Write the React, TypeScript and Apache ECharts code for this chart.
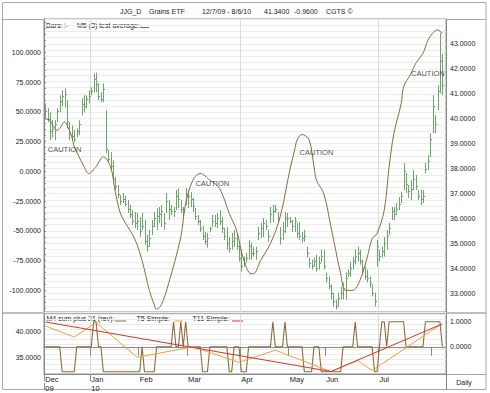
import React, { useEffect, useRef } from 'react';
import * as echarts from 'echarts';

// ---------- data ----------
const monthNames = ['Dec', 'Jan', 'Feb', 'Mar', 'Apr', 'May', 'Jun', 'Jul', 'Aug'];
const monthAxisLabels = ['Dec', 'Jan', 'Feb', 'Mar', 'Apr', 'May', 'Jun', 'Jul', ''];
const monthBarCounts = [19, 20, 20, 22, 20, 15, 22, 22, 6];
const yearLabels = ['09', '10'];
const gridMonths = ['Jan', 'Apr', 'Jul'];

const priceHigh = [
  40.62, 40.42, 40.26, 39.94, 39.94, 40.42, 40.94, 41.14, 41.22, 40.74,
  39.86, 39.74, 39.54, 39.62, 39.94, 40.82, 40.94, 40.94, 41.14, 41.26,
  41.81, 41.85, 41.42, 41.06, 41.42, 40.34, 38.74, 38.66, 38.34, 37.66,
  37.34, 36.94, 37.02, 36.90, 36.74, 36.54, 36.34, 36.26, 36.22, 36.06,
  36.22, 35.94, 35.34, 35.54, 35.94, 36.26, 36.42, 36.46, 36.54, 36.22,
  37.02, 36.74, 36.54, 36.46, 37.14, 37.22, 36.74, 36.46, 37.22, 37.14,
  37.06, 36.82, 36.42, 36.14, 35.94, 35.70, 35.46, 35.42, 35.66, 36.14,
  36.14, 36.22, 36.34, 36.06, 35.62, 35.66, 35.26, 35.42, 35.54, 35.42,
  34.95, 34.75, 34.47, 34.63, 35.14, 35.03, 34.87, 34.87, 35.66, 35.82,
  36.02, 35.94, 35.54, 36.46, 36.54, 36.54, 36.26, 35.66, 35.86, 36.26,
  36.22, 36.06, 35.94, 36.06, 35.82, 35.86, 35.46, 35.54, 34.87, 34.43,
  34.35, 34.43, 34.55, 34.47, 34.75, 34.75, 33.83, 33.67, 33.35, 33.03,
  32.75, 33.03, 33.27, 33.43, 33.83, 33.95, 34.27, 34.47, 34.75, 34.87,
  34.75, 34.35, 34.07, 33.95, 33.67, 33.35, 33.03, 35.14, 34.75, 34.87,
  35.26, 35.54, 35.82, 36.46, 36.46, 36.62, 36.86, 37.06, 38.22, 37.82,
  37.34, 37.54, 37.94, 37.74, 37.14, 37.14, 37.14, 38.22, 38.54, 39.42,
  40.94, 40.14, 41.34, 43.45, 42.61,
];
const priceLow = [
  40.02, 39.86, 39.14, 39.26, 39.14, 39.86, 40.26, 40.50, 40.46, 39.62,
  39.14, 39.14, 39.06, 39.26, 39.34, 40.14, 40.26, 40.42, 40.62, 40.94,
  41.06, 41.06, 40.74, 40.66, 40.66, 38.62, 38.26, 37.94, 37.46, 37.14,
  36.82, 36.54, 36.62, 36.50, 36.22, 36.02, 35.74, 35.62, 35.54, 35.26,
  35.54, 34.95, 34.67, 34.87, 35.34, 35.66, 35.54, 35.82, 35.66, 35.54,
  36.22, 35.94, 36.14, 36.06, 36.34, 36.42, 36.22, 36.06, 36.54, 36.42,
  36.46, 36.26, 35.94, 35.74, 35.46, 35.14, 34.95, 34.83, 35.46, 35.66,
  35.66, 35.62, 35.74, 35.42, 35.14, 34.75, 34.63, 34.75, 34.87, 34.75,
  34.27, 33.87, 34.07, 34.23, 34.35, 34.35, 34.47, 34.35, 35.14, 35.22,
  35.26, 35.54, 35.06, 35.82, 35.86, 36.22, 35.86, 34.95, 35.14, 35.42,
  35.66, 35.82, 35.46, 35.46, 35.22, 35.14, 35.03, 35.06, 34.43, 34.03,
  33.95, 34.07, 33.87, 33.95, 34.23, 33.95, 33.43, 33.15, 32.75, 32.47,
  32.35, 32.47, 32.75, 32.75, 32.75, 33.67, 33.67, 33.95, 34.15, 34.27,
  34.15, 33.75, 33.55, 33.43, 33.23, 32.87, 32.47, 34.07, 34.27, 34.43,
  34.47, 34.75, 35.34, 35.94, 35.94, 36.14, 36.34, 36.62, 37.14, 37.02,
  36.82, 36.74, 37.14, 37.14, 36.74, 36.54, 36.62, 37.82, 37.94, 38.46,
  39.42, 39.42, 40.34, 41.02, 40.94,
];
const priceClose = [
  40.3, 40.0, 39.5, 39.6, 39.8, 40.3, 40.7, 40.9, 41.0, 39.9,
  39.4, 39.3, 39.2, 39.5, 39.8, 40.6, 40.5, 40.8, 40.9, 41.1,
  41.6, 41.4, 40.9, 40.8, 41.2, 38.8, 38.4, 38.1, 37.6, 37.3,
  37.0, 36.7, 36.8, 36.6, 36.4, 36.2, 35.9, 35.8, 35.9, 35.5,
  35.7, 35.1, 34.9, 35.2, 35.7, 36.0, 36.1, 36.2, 36.3, 35.8,
  36.7, 36.4, 36.3, 36.3, 36.9, 36.8, 36.4, 36.3, 37.0, 36.9,
  36.8, 36.5, 36.1, 35.9, 35.6, 35.3, 35.1, 35.2, 35.6, 35.9,
  35.8, 36.0, 35.9, 35.6, 35.3, 35.0, 34.8, 35.1, 35.2, 34.9,
  34.4, 34.1, 34.2, 34.4, 34.9, 34.6, 34.6, 34.7, 35.4, 35.6,
  35.8, 35.7, 35.3, 36.2, 36.3, 36.4, 36.0, 35.2, 35.5, 36.0,
  36.0, 35.9, 35.7, 35.9, 35.4, 35.3, 35.2, 35.3, 34.6, 34.2,
  34.1, 34.3, 34.0, 34.2, 34.5, 34.1, 33.6, 33.3, 33.0, 32.7,
  32.5, 32.8, 33.0, 33.2, 33.6, 33.8, 34.0, 34.3, 34.5, 34.6,
  34.3, 34.0, 33.7, 33.6, 33.4, 33.0, 32.7, 34.9, 34.5, 34.7,
  35.0, 35.3, 35.6, 36.3, 36.2, 36.4, 36.6, 36.9, 37.9, 37.4,
  37.1, 37.2, 37.6, 37.3, 36.9, 36.8, 36.9, 38.0, 38.3, 39.2,
  40.5, 39.8, 41.1, 42.3, 41.34,
];

// M5 (3) test average, read at [bar index, value] (left axis)
const oscillator = [
  [0, 44], [2, 43], [3, 39], [5, 34.5], [6, 36], [8, 41.5], [9, 39], [11, 29], [12, 20.6],
  [14, 12.2], [16, 4], [18, -1.8], [21, 4], [24, 12.2], [27, 3.8], [29, -18], [31, -35],
  [33, -43], [37, -57], [40, -75], [43, -100], [45, -112], [46, -116], [48, -112],
  [51, -94], [56, -55], [58, -27], [61, -7.4], [64, -1.8], [68, -7.4], [72, -14.4],
  [76, -35.4], [79, -49.5], [82, -74.7], [85, -86], [86, -86], [89, -74.7], [93, -60.7],
  [97, -38.3], [101, 1], [103, 17.8], [104, 26.3], [106, 31], [109, 26.3], [111, 3.8],
  [112, -7.4], [115, -18.6], [118, -46.7], [122, -86], [124, -100], [127, -100],
  [130, -91.5], [133, -72], [135, -56.5], [137, -52.3], [140, -32.6], [142, 3.8],
  [144, 31.9], [147, 57], [148, 71], [151, 82], [153, 90.8], [156, 99.2], [158, 110],
  [160, 116], [162, 118.8], [164, 116],
];
const cautionPoints = [[8, 18.4], [69, -10.2], [112, 15.9], [158, 82.4]];

// lower panel
const m4Signal = [
  0, 0, 0, 0, 0, 0, 0, -1, -1, -1, -1, -1, -1, 0, 0, 0, 0, 0, 0, 0,
  1, 1, 0, 0, -1, -1, -1, -1, -1, -1, -1, -1, -1, -1, -1, -1, -1, -1, -1, -1,
  0, -1, -1, -1, -1, -1, 0, 0, 0, 0, 0, 0, 0, 1, 0, 0, 1, 0, 1, 0,
  0, 0, 0, 0, 0, -1, -1, -1, 0, 0, 0, 0, 0, 0, 0, 0, -1, -1, 0, 0,
  0, -1, -1, -1, 0, 0, 0, 0, 0, 0, 0, 0, 0, 0, 1, 0, 0, 0, 0, 1,
  0, 0, 0, 0, 0, 0, 0, -1, -1, -1, -1, 0, 0, 0, -1, -1, -1, -1, -1, -1,
  -1, -1, -1, 0, 0, 0, 0, 0, 1, 0, 0, 0, 0, 0, 0, 0, -1, -1, 0, 1,
  1, 0, 1, 1, 1, 1, 1, 1, 1, 0, 0, 0, 0, 0, 0, 0, 0, 1, 1, 1,
  1, 1, 1, 1, 0,
];
const t5Points = [
  [0, 40.96], [12, 38.85], [21, 41.63], [38, 35.0], [61, 37.0], [80, 34.04],
  [95, 36.35], [118, 32.3], [129, 34.4], [135, 32.5], [163, 41.15],
];
const t11Points = [[0, 41.73], [118, 32.3], [164, 41.35]];

const oscLabels = [-100, -75, -50, -25, 0, 25, 50, 75, 100];
const priceLabels = [33, 34, 35, 36, 37, 38, 39, 40, 41, 42, 43];
const lowerLeftLabels = [35, 40];
const lowerRightLabels = [0, 1];

// ---------- styles ----------
const FONT = '"Liberation Sans", Arial, Helvetica, sans-serif';
const TXT = '#1a1a1a';
const AX = '#8a8a8a';
const FRAME = '#a8a8a8';
const GRIDC = '#ececec';
const BAR = '#6aa86a';
const BROWN = '#8c6b3c';
const ORANGE = '#f2a040';
const RED = '#d2362c';

export default function App() {
  const ref = useRef<HTMLDivElement>(null);

  useEffect(() => {
    if (!ref.current) return;
    const chart = echarts.init(ref.current, null, { renderer: 'svg' });

    const categories: string[] = [];
    const monthStarts: number[] = [];
    monthNames.forEach((m, k) => {
      monthStarts.push(categories.length);
      for (let j = 0; j < monthBarCounts[k]; j++) categories.push(`${m}-${j}`);
    });
    const monthStartSet = new Set(monthStarts);
    const quarterSet = new Set(
      monthNames.map((m, k) => (gridMonths.includes(m) ? monthStarts[k] : -1)).filter((v) => v >= 0)
    );
    const yearStarts = [0, monthStarts[monthNames.indexOf('Jan')]];

    const barData = priceHigh.map((h, i) => [i, priceLow[i], h, priceClose[i]]);

    const oscMinor: number[] = [];
    for (let v = -115; v <= 125; v += 5) oscMinor.push(v);

    const fmt4 = (v: number) => Number(v).toFixed(4);
    const axLabel = { fontFamily: FONT, fontSize: 7, color: TXT };
    const t = (text: string, x: number, y: number, fill = TXT, extra: any = {}) => ({
      type: 'text', x, y, silent: true,
      style: { text, fontFamily: FONT, fontSize: 7, fill, verticalAlign: 'middle', ...extra },
    });
    const ln = (x1: number, y1: number, x2: number, y2: number, stroke: string, lineWidth = 1) => ({
      type: 'line', silent: true, shape: { x1, y1, x2, y2 }, style: { stroke, lineWidth },
    });

    const option: any = {
      animation: false,
      backgroundColor: '#ffffff',
      grid: [
        { left: 44, right: 44, top: 19, height: 293, show: true, borderColor: AX, borderWidth: 1, backgroundColor: 'transparent' },
        { left: 44, right: 44, top: 314, height: 60, show: true, borderColor: AX, borderWidth: 1, backgroundColor: 'transparent' },
      ],
      xAxis: [
        {
          type: 'category', gridIndex: 0, data: categories, boundaryGap: true,
          axisLine: { show: false }, axisTick: { show: false }, axisLabel: { show: false },
          splitLine: { show: true, interval: (i: number) => quarterSet.has(i), lineStyle: { color: '#dcdcdc', width: 1 } },
        },
        {
          type: 'category', gridIndex: 1, data: categories, boundaryGap: true, position: 'bottom',
          axisLine: { show: true, lineStyle: { color: AX } },
          axisTick: { show: true, interval: (i: number) => monthStartSet.has(i), length: 9, lineStyle: { color: AX } },
          axisLabel: {
            show: true, interval: (i: number) => monthStartSet.has(i),
            formatter: (_v: string, i: number) => monthAxisLabels[monthStarts.indexOf(i)] ?? '',
            align: 'left', margin: 1, ...axLabel, fontSize: 7.5,
          },
          splitLine: { show: true, interval: (i: number) => quarterSet.has(i), lineStyle: { color: '#dcdcdc', width: 1 } },
        },
        {
          type: 'category', gridIndex: 1, data: categories, boundaryGap: true, position: 'bottom', offset: 9,
          axisLine: { show: true, lineStyle: { color: AX } },
          axisTick: { show: true, interval: (i: number) => yearStarts.includes(i), length: 7, lineStyle: { color: AX } },
          axisLabel: {
            show: true, interval: (i: number) => yearStarts.includes(i),
            formatter: (_v: string, i: number) => yearLabels[yearStarts.indexOf(i)] ?? '',
            align: 'left', margin: 1, ...axLabel, fontSize: 7.5,
          },
          splitLine: { show: false },
        },
      ],
      yAxis: [
        {
          type: 'value', gridIndex: 0, position: 'left', min: -118.2, max: 128,
          axisLine: { show: true, lineStyle: { color: AX } },
          axisTick: { show: true, inside: true, length: 2, customValues: oscMinor, lineStyle: { color: AX } },
          axisLabel: { show: true, customValues: oscLabels, formatter: fmt4, margin: 3, ...axLabel },
          splitLine: { show: false },
        },
        {
          type: 'value', gridIndex: 0, position: 'right', min: 32.25, max: 44, interval: 0.25,
          axisLine: { show: true, lineStyle: { color: AX } },
          axisTick: { show: false },
          axisLabel: {
            show: true, margin: 4, ...axLabel,
            formatter: (v: number) => (priceLabels.some((p) => Math.abs(p - v) < 1e-6) ? fmt4(v) : ''),
          },
          splitLine: { show: true, lineStyle: { color: GRIDC, width: 1 } },
        },
        {
          type: 'value', gridIndex: 1, position: 'left', min: 31.83, max: 43.23,
          axisLine: { show: true, lineStyle: { color: AX } },
          axisTick: { show: false },
          axisLabel: { show: true, customValues: lowerLeftLabels, formatter: fmt4, margin: 3, ...axLabel },
          splitLine: { show: false },
        },
        {
          type: 'value', gridIndex: 1, position: 'right', min: -1.09, max: 1.31,
          axisLine: { show: true, lineStyle: { color: AX } },
          axisTick: { show: false },
          axisLabel: { show: true, customValues: lowerRightLabels, formatter: fmt4, margin: 4, ...axLabel },
          splitLine: { show: false },
        },
        {
          type: 'value', gridIndex: 1, position: 'right', min: 0, max: 12, interval: 1, show: true,
          axisLine: { show: false }, axisTick: { show: false }, axisLabel: { show: false },
          splitLine: { show: true, lineStyle: { color: GRIDC, width: 1 } },
        },
      ],
      graphic: [
        { type: 'rect', silent: true, shape: { x: 2.5, y: 2.5, width: 483.5, height: 387 }, style: { fill: 'none', stroke: FRAME, lineWidth: 1 } },
        ln(3, 19.5, 486, 19.5, FRAME),
        ln(3, 313, 486, 313, FRAME, 1.5),
        ln(446.5, 374.5, 486, 374.5, FRAME),
        ln(44.5, 383, 44.5, 390, AX),
        ln(446.5, 374, 446.5, 390, AX),
        t('Daily', 464, 382, TXT, { align: 'center' }),
        // title
        t('JJG_D', 120, 11),
        t('Grains ETF', 149, 11),
        t('12/7/09 - 8/6/10', 202, 11),
        t('41.3400', 264, 11),
        t('-0.9600', 294, 11),
        t('CGTS ©', 326, 11),
        // main legend
        t('Bars:', 46, 25.5),
        t('I-', 64, 25.5, BAR),
        t('M5 (3) test average:', 77, 25.5),
        ln(140, 27.5, 149, 27.5, BROWN),
        // lower legend
        t('M4 sum plus 21 (rev):', 46.5, 318.5),
        ln(115, 321, 126, 321, BROWN),
        t('T5 Simple:', 136.5, 318.5),
        ln(175, 321, 183, 321, ORANGE),
        t('T11 Simple:', 192.5, 318.5),
        ln(232, 321, 243, 321, RED),
      ],
      series: [
        {
          name: 'Bars', type: 'custom', xAxisIndex: 0, yAxisIndex: 1, data: barData,
          encode: { x: 0, y: [1, 2] },
          renderItem: (_params: any, api: any) => {
            const i = api.value(0);
            const lo = api.coord([i, api.value(1)]);
            const hi = api.coord([i, api.value(2)]);
            const cl = api.coord([i, api.value(3)]);
            const x = Math.round(lo[0]) + 0.5;
            const cy = Math.round(cl[1]) + 0.5;
            return {
              type: 'group',
              children: [
                { type: 'line', shape: { x1: x, y1: hi[1], x2: x, y2: lo[1] }, style: { stroke: BAR, lineWidth: 1 } },
                { type: 'line', shape: { x1: x, y1: cy, x2: x + 1.5, y2: cy }, style: { stroke: BAR, lineWidth: 1 } },
              ],
            };
          },
        },
        {
          name: 'M5 (3) test average', type: 'line', xAxisIndex: 0, yAxisIndex: 0, data: oscillator,
          smooth: 0.35, showSymbol: false, lineStyle: { color: BROWN, width: 1 }, z: 3,
        },
        {
          name: 'caution', type: 'scatter', xAxisIndex: 0, yAxisIndex: 0, data: cautionPoints,
          symbolSize: 1, itemStyle: { color: 'rgba(0,0,0,0)' }, z: 5,
          label: { show: true, position: 'inside', formatter: () => 'CAUTION', fontFamily: FONT, fontSize: 7.5, color: TXT },
        },
        {
          name: 'M4 sum plus 21 (rev)', type: 'line', xAxisIndex: 1, yAxisIndex: 3, data: m4Signal,
          showSymbol: false, lineStyle: { color: BROWN, width: 1.1 },
        },
        {
          name: 'T5 Simple', type: 'line', xAxisIndex: 1, yAxisIndex: 2, data: t5Points,
          showSymbol: false, lineStyle: { color: ORANGE, width: 1 },
        },
        {
          name: 'T11 Simple', type: 'line', xAxisIndex: 1, yAxisIndex: 2, data: t11Points,
          showSymbol: false, lineStyle: { color: RED, width: 1 },
        },
      ],
    };

    chart.setOption(option);
    return () => chart.dispose();
  }, []);

  return <div ref={ref} style={{ width: 490, height: 393, position: 'fixed', left: 0, top: 0, background: '#fff' }} />;
}
